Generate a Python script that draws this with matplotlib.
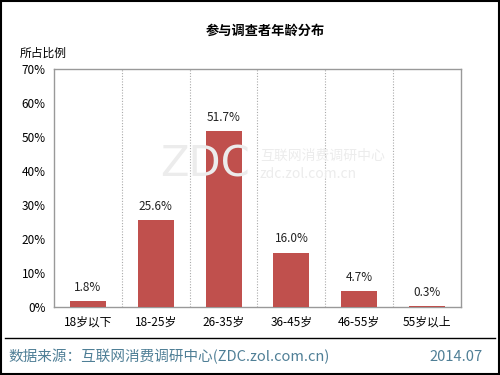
import matplotlib.pyplot as plt
from matplotlib.lines import Line2D
from matplotlib.patches import Rectangle

plt.rcParams['font.family'] = ['Noto Sans CJK SC', 'DejaVu Sans']

# data
categories = ['18岁以下', '18-25岁', '26-35岁', '36-45岁', '46-55岁', '55岁以上']
values = [1.8, 25.6, 51.7, 16.0, 4.7, 0.3]
yticks = [0, 10, 20, 30, 40, 50, 60, 70]

fig = plt.figure(figsize=(5, 3.75), dpi=100)
ax = fig.add_axes([0.108, 0.181, 0.814, 0.635])

x = range(len(categories))
ax.bar(x, values, width=0.53, color='#C0504D', zorder=3)
for i, v in zip(x, values):
    ax.text(i, v + 2.2, f'{v:.1f}%', ha='center', va='bottom', fontsize=8.5, color='#222222')

ax.set_xlim(-0.5, len(categories) - 0.5)
ax.set_ylim(0, 70)
ax.set_yticks(yticks)
ax.set_yticklabels([f'{t}%' for t in yticks], fontsize=8.5)
ax.set_xticks(list(x))
ax.set_xticklabels(categories, fontsize=8.5)
ax.tick_params(length=0, pad=6)

# dotted separators between categories
for b in range(1, len(categories)):
    ax.axvline(b - 0.5, color='#aaaaaa', linestyle=(0, (1, 1.5)), linewidth=0.8, zorder=1)
for s in ax.spines.values():
    s.set_color('#999999')
    s.set_linewidth(1)

# watermark
fig.text(0.5, 0.56, 'ZDC', fontsize=30, color='#ececec', ha='right', va='center', zorder=0, family='DejaVu Sans')
fig.text(0.52, 0.585, '互联网消费调研中心', fontsize=10, color='#ececec', ha='left', va='center', zorder=0)
fig.text(0.52, 0.535, 'zdc.zol.com.cn', fontsize=10, color='#ececec', ha='left', va='center', zorder=0)

fig.text(0.53, 0.918, '参与调查者年龄分布', fontsize=9.5, fontweight='bold', ha='center', va='center')
fig.text(0.04, 0.858, '所占比例', fontsize=8.5, ha='left', va='center')

# footer
fig.add_artist(Line2D([0.01, 0.99], [0.099, 0.099], color='black', linewidth=1))
fig.text(0.016, 0.048, '数据来源：互联网消费调研中心(ZDC.zol.com.cn)', fontsize=10.5, color='#4f7f96', ha='left', va='center')
fig.text(0.966, 0.048, '2014.07', fontsize=10.5, color='#4f7f96', ha='right', va='center')

# outer frame
fig.add_artist(Rectangle((0.002, 0.003), 0.996, 0.994, fill=False, edgecolor='black', linewidth=1.5, transform=fig.transFigure))

fig.savefig('out.png', dpi=100)
